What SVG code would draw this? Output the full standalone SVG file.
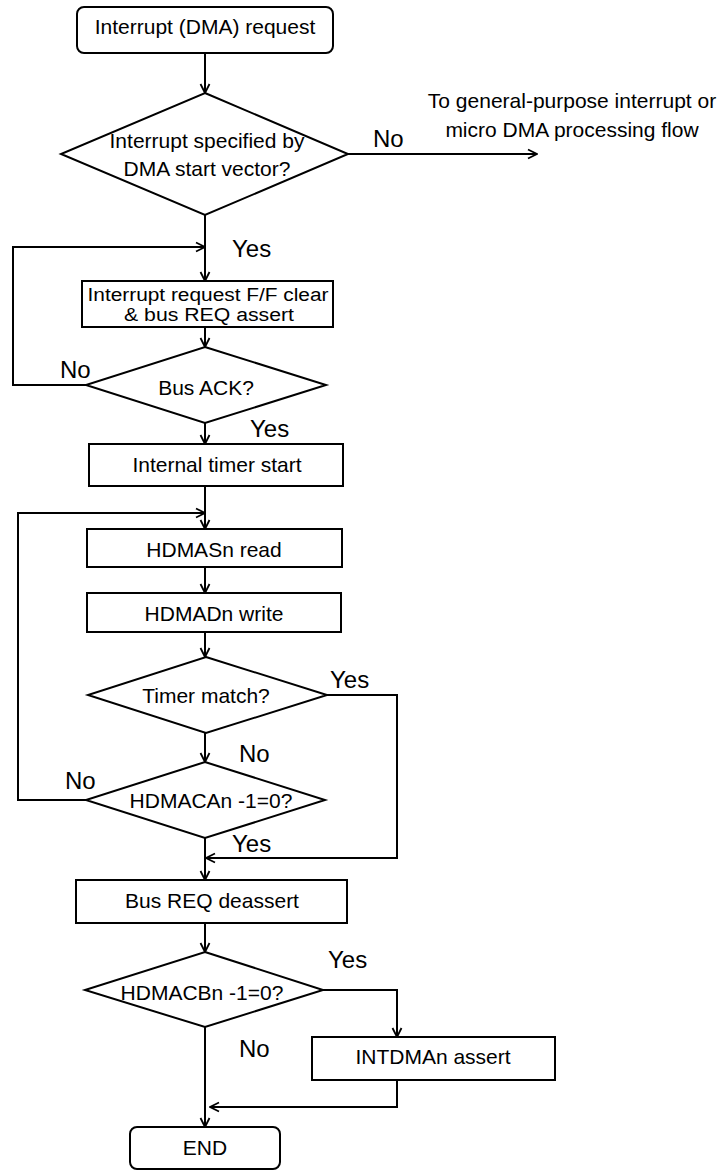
<svg xmlns="http://www.w3.org/2000/svg" width="724" height="1171" viewBox="0 0 724 1171">
<style>
.s{fill:#fff;stroke:#000;stroke-width:2}
.t{font-family:"Liberation Sans",Arial,sans-serif;font-size:21px;fill:#000;text-anchor:middle}
.t2{font-family:"Liberation Sans",Arial,sans-serif;font-size:18px;fill:#000;text-anchor:middle}
.l{font-family:"Liberation Sans",Arial,sans-serif;font-size:24px;fill:#000}
.c{fill:none;stroke:#000;stroke-width:2}
.a{marker-end:url(#ah)}
</style>
<defs>
<marker id="ah" markerUnits="userSpaceOnUse" markerWidth="12" markerHeight="12" viewBox="0 0 12 12" refX="11" refY="6" orient="auto">
<path d="M2,1.5 L11,6 L2,10.5" fill="none" stroke="#000" stroke-width="1.8"/>
</marker>
</defs>
<rect width="724" height="1171" fill="#fff"/>
<g id="connectors">
<path class="c a" d="M205,53 V93"/>
<path class="c a" d="M348,154 H537"/>
<path class="c a" d="M205,215 V281"/>
<path class="c a" d="M86,385 H13 V247 H205"/>
<path class="c a" d="M205,327 V347"/>
<path class="c a" d="M205,423 V444"/>
<path class="c a" d="M205,486 V529"/>
<path class="c a" d="M86,800 H18 V513 H205"/>
<path class="c a" d="M205,567 V593"/>
<path class="c a" d="M205,632 V657"/>
<path class="c a" d="M205,733 V762"/>
<path class="c a" d="M327,695 H397 V858 H206"/>
<path class="c a" d="M205,838 V880"/>
<path class="c a" d="M205,923 V952"/>
<path class="c a" d="M323,990 H397 V1037"/>
<path class="c a" d="M205,1027 V1127"/>
<path class="c a" d="M397,1080 V1107 H210"/>
<text class="l" x="373" y="147">No</text>
<text class="l" x="232" y="257">Yes</text>
<text class="l" x="60" y="378">No</text>
<text class="l" x="250" y="437">Yes</text>
<text class="l" x="330" y="688">Yes</text>
<text class="l" x="239" y="762">No</text>
<text class="l" x="65" y="789">No</text>
<text class="l" x="232" y="852">Yes</text>
<text class="l" x="328" y="968">Yes</text>
<text class="l" x="239" y="1057">No</text>
</g>
<g id="start">
<rect class="s" x="77" y="7" width="256" height="46" rx="7"/>
<text class="t" x="205" y="34">Interrupt (DMA) request</text>
</g>
<g id="d1">
<polygon class="s" points="205,93 348,154 205,215 61,154"/>
<text class="t" x="207" y="148">Interrupt specified by</text>
<text class="t" x="207" y="176">DMA start vector?</text>
</g>
<g id="external">
<text class="t" x="572" y="108">To general-purpose interrupt or</text>
<text class="t" x="572" y="137">micro DMA processing flow</text>
</g>
<g id="b2">
<rect class="s" x="82" y="281" width="251" height="46"/>
<text class="t2" x="208" y="301" textLength="241" lengthAdjust="spacingAndGlyphs">Interrupt request F/F clear</text>
<text class="t2" x="209" y="321" textLength="170" lengthAdjust="spacingAndGlyphs">&amp; bus REQ assert</text>
</g>
<g id="d2">
<polygon class="s" points="205,347 326,385 205,423 86,385"/>
<text class="t" x="206" y="395">Bus ACK?</text>
</g>
<g id="b3">
<rect class="s" x="89" y="444" width="254" height="42"/>
<text class="t" x="217" y="472">Internal timer start</text>
</g>
<g id="b4">
<rect class="s" x="87" y="529" width="255" height="38"/>
<text class="t" x="214" y="557">HDMASn read</text>
</g>
<g id="b5">
<rect class="s" x="87" y="593" width="254" height="39"/>
<text class="t" x="214" y="621">HDMADn write</text>
</g>
<g id="d3">
<polygon class="s" points="206,657 327,695 206,733 88,695"/>
<text class="t" x="206" y="703">Timer match?</text>
</g>
<g id="d4">
<polygon class="s" points="205,762 325,800 205,838 86,800"/>
<text class="t" x="211" y="808">HDMACAn -1=0?</text>
</g>
<g id="b6">
<rect class="s" x="76" y="880" width="271" height="43"/>
<text class="t" x="212" y="908">Bus REQ deassert</text>
</g>
<g id="d5">
<polygon class="s" points="205,952 323,990 205,1027 85,990"/>
<text class="t" x="202" y="1000">HDMACBn -1=0?</text>
</g>
<g id="b7">
<rect class="s" x="312" y="1037" width="243" height="43"/>
<text class="t" x="433" y="1064">INTDMAn assert</text>
</g>
<g id="end">
<rect class="s" x="130" y="1127" width="150" height="42" rx="7"/>
<text class="t" x="205" y="1155">END</text>
</g>
</svg>
